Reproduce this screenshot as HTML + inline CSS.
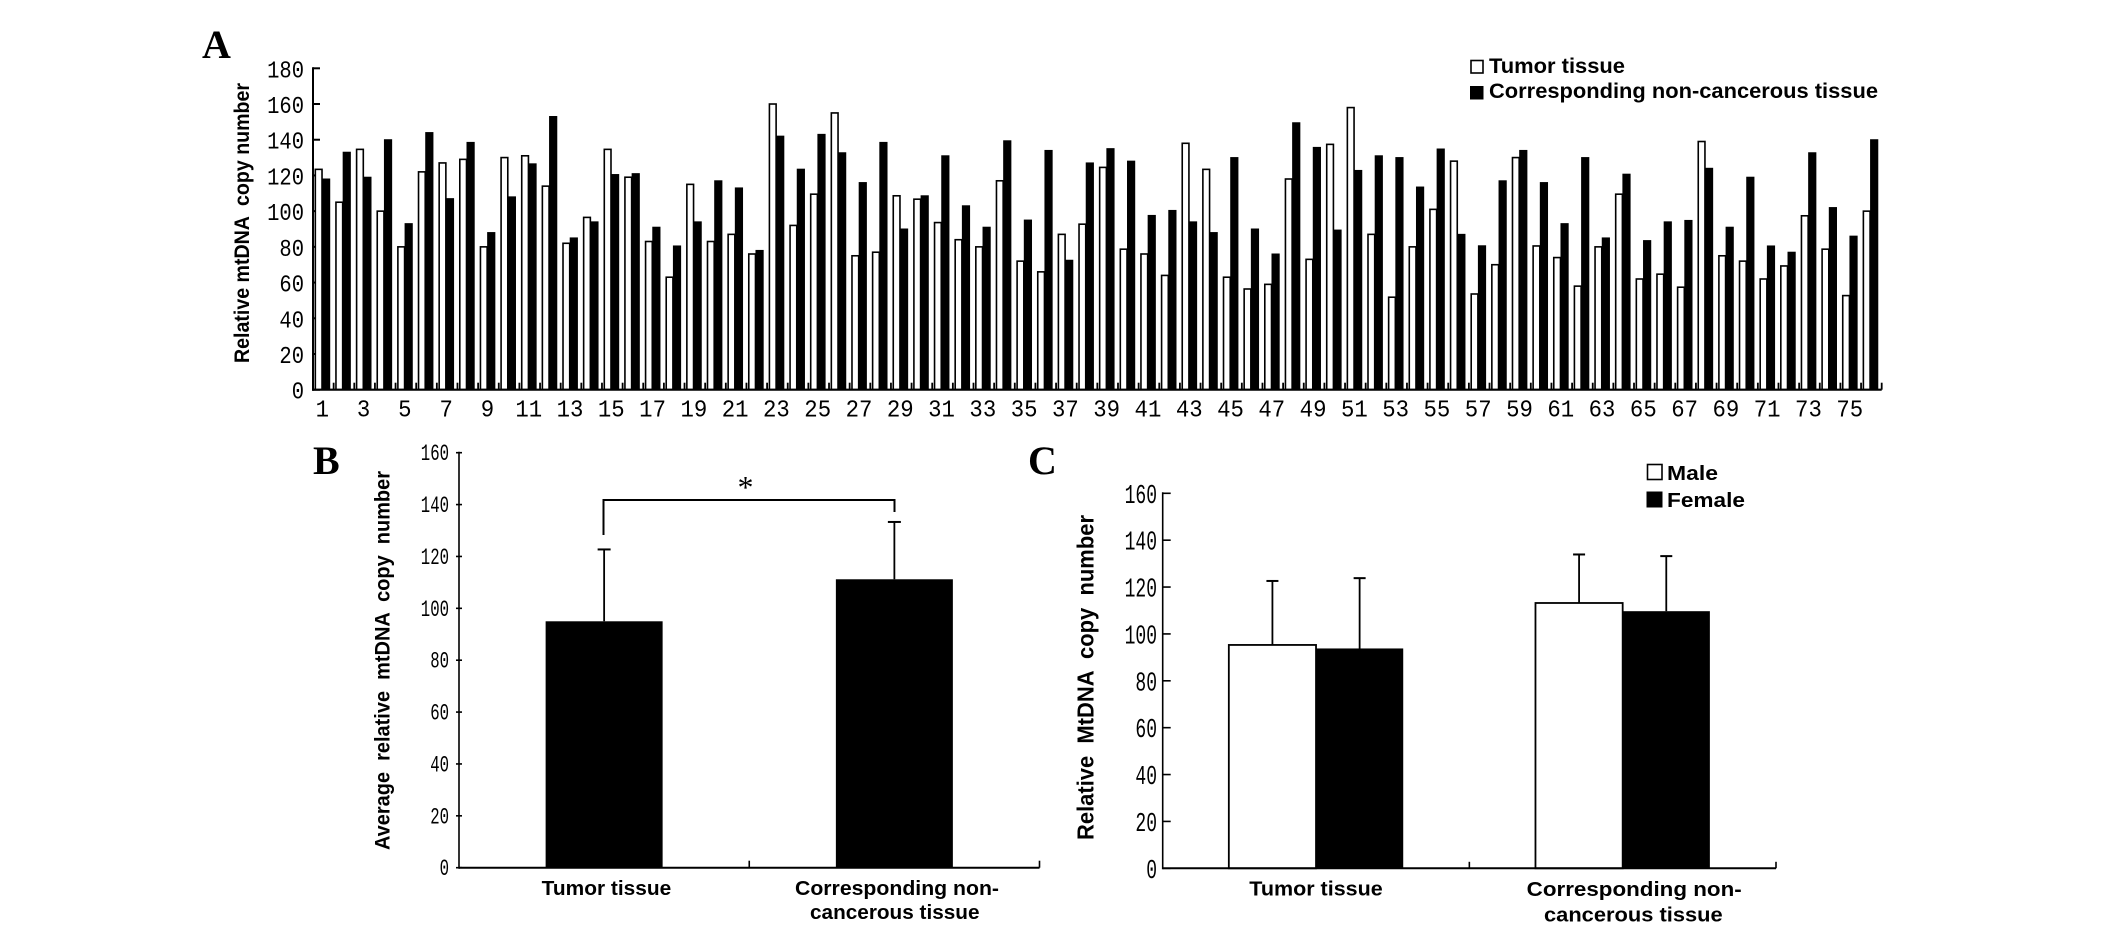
<!DOCTYPE html>
<html lang="en">
<head>
<meta charset="utf-8">
<title>Relative mtDNA copy number figure</title>
<style>
html,body{margin:0;padding:0;background:#fff;}
svg{display:block;}
text{fill:#000;}
.letter{font-family:"Liberation Serif",serif;font-weight:bold;font-size:40px;}
.title{font-family:"Liberation Sans",sans-serif;font-weight:bold;white-space:pre;}
.cat{font-family:"Liberation Sans",sans-serif;font-weight:bold;font-size:20px;}
.num{font-family:"Liberation Mono",monospace;}
</style>
</head>
<body>
<svg id="fig" xmlns="http://www.w3.org/2000/svg" width="2126" height="929" viewBox="0 0 2126 929">
  <rect x="0" y="0" width="2126" height="929" fill="#fff"/>
  <g id="panelA">
    <text class="letter" x="202" y="58">A</text>
    <text class="title" font-size="21" transform="translate(249,363) rotate(-90)" textLength="280" lengthAdjust="spacingAndGlyphs" xml:space="preserve">Relative mtDNA  copy number</text>
    <rect x="1471" y="60.5" width="12" height="12.5" fill="#fff" stroke="#000" stroke-width="1.6"/>
    <text class="title" font-size="21" x="1489" y="73" textLength="136" lengthAdjust="spacingAndGlyphs">Tumor tissue</text>
    <rect x="1470" y="86" width="13.5" height="13.5" fill="#000"/>
    <text class="title" font-size="21" x="1489" y="98" textLength="389" lengthAdjust="spacingAndGlyphs">Corresponding non-cancerous tissue</text>
  </g>
  <g id="panelB">
    <text class="letter" x="313" y="474">B</text>
    <text class="title" font-size="21" transform="translate(389.5,850) rotate(-90)" textLength="379" lengthAdjust="spacingAndGlyphs" xml:space="preserve">Average  relative  mtDNA  copy  number</text>
    <path d="M603.5 535V500H894.5V512" fill="none" stroke="#000" stroke-width="2"/>
    <text x="745.5" y="498" text-anchor="middle" font-family="Liberation Serif, serif" font-size="32">*</text>
    <text class="cat" x="541.7" y="895" textLength="129.5" lengthAdjust="spacingAndGlyphs">Tumor tissue</text>
    <text class="cat" x="795" y="895" textLength="204" lengthAdjust="spacingAndGlyphs">Corresponding non-</text>
    <text class="cat" x="810" y="919" textLength="169.5" lengthAdjust="spacingAndGlyphs">cancerous tissue</text>
  </g>
  <g id="panelC">
    <text class="letter" x="1028" y="474">C</text>
    <text class="title" font-size="23" transform="translate(1093.5,840) rotate(-90)" textLength="325" lengthAdjust="spacingAndGlyphs" xml:space="preserve">Relative  MtDNA  copy  number</text>
    <rect x="1647.5" y="464.5" width="14.5" height="15" fill="#fff" stroke="#000" stroke-width="1.6"/>
    <text class="cat" x="1667" y="480" textLength="51" lengthAdjust="spacingAndGlyphs">Male</text>
    <rect x="1646.5" y="491.5" width="16" height="16" fill="#000"/>
    <text class="cat" x="1667" y="507" textLength="78" lengthAdjust="spacingAndGlyphs">Female</text>
    <text class="cat" x="1249.3" y="895.7" textLength="133.4" lengthAdjust="spacingAndGlyphs">Tumor tissue</text>
    <text class="cat" x="1526.7" y="896" textLength="215" lengthAdjust="spacingAndGlyphs">Corresponding non-</text>
    <text class="cat" x="1544" y="921.7" textLength="178.7" lengthAdjust="spacingAndGlyphs">cancerous tissue</text>
  </g>
</svg>
<script>
// ---------- Panel A data ----------
const sampleLabelsA = [1,3,5,7,9,11,13,15,17,19,21,23,25,27,29,31,33,35,37,39,41,43,45,47,49,51,53,55,57,59,61,63,65,67,69,71,73,75];
const yTicksA = [0,20,40,60,80,100,120,140,160,180];
const tumorA = [123.4,105,134.6,100,80,122,127,129,80,130,131,114,82,96.5,134.6,119,83,63,115,83,87,76,160,92,109.5,155,75,77,108.6,106.7,93.6,84,80,117,72,66,87,92.7,124.5,78.7,76,64,138,123.4,63,56.4,59,118,73,137.4,158,87,51.8,80,101,128,53.6,70,130,80.5,74,58,80,109.5,62,64.7,57.4,139,75,72,62,69.3,97.4,78.7,52.7,100];
const nonCancerousA = [118,133,119,140,93,144,107,138.5,88,108,126.5,153,85,94,120.5,121,91,80.5,94,117,113,78,142,123.5,143,132.7,116,138.5,90,108.6,131,103,91,139.4,95,134,72.5,127,135,128,97.6,100.4,94,88,130,90,76,149.5,135.7,89.4,122.8,131,130,113.5,134.8,87,80.6,117,134,116,93,130,85,120.7,83.5,94,94.8,124,91,119,80.5,77,132.7,102,86,140];

// ---------- Panel B data ----------
const categoriesB = ["Tumor tissue","Corresponding non-cancerous tissue"];
const yTicksB = [0,20,40,60,80,100,120,140,160];
const meansB = [95,111.2];
const errorTopsB = [122.7,133.3];

// ---------- Panel C data ----------
const categoriesC = ["Tumor tissue","Corresponding non-cancerous tissue"];
const yTicksC = [0,20,40,60,80,100,120,140,160];
const maleC = [95.3,113.2];
const femaleC = [93.8,109.7];
const maleErrorTopsC = [122.6,133.9];
const femaleErrorTopsC = [123.8,133.2];

const NS = 'http://www.w3.org/2000/svg';
function mk(parent, tag, attrs) {
  const el = document.createElementNS(NS, tag);
  for (const k in attrs) el.setAttribute(k, attrs[k]);
  parent.appendChild(el);
  return el;
}
function line(parent, x1, y1, x2, y2, w) {
  return mk(parent, 'line', {x1: x1, y1: y1, x2: x2, y2: y2, stroke: '#000', 'stroke-width': w});
}
function numText(parent, str, x, y, size, digitW, anchor) {
  const t = mk(parent, 'text', {
    class: 'num', x: x, y: y, 'font-size': size, 'text-anchor': anchor,
    textLength: digitW * String(str).length, lengthAdjust: 'spacingAndGlyphs'
  });
  t.textContent = str;
  return t;
}

// ---------- Panel A ----------
(function () {
  const g = document.getElementById('panelA');
  const x0 = 313, x1 = 1881.7, y0 = 389.7, yTop = 68.3, yMax = 180;
  const n = tumorA.length;
  const cw = (x1 - x0) / n;
  const yS = v => y0 - (v / yMax) * (y0 - yTop);
  const xS = i => x0 + cw * (i + 0.5);

  yTicksA.forEach(v => {
    const tick = line(g, x0, yS(v), x0 + 7, yS(v), 2);
    
    
    const lab = numText(g, v, 304, yS(v) + 9, 24, 12.3, 'end');
    
    
  });
  for (let k = 1; k <= n; k++) {
    const tx = x0 + cw * k;
    const tick = line(g, tx, y0, tx, y0 - 7, 1.8);
    
    
  }
  tumorA.forEach((v, i) => {
    const b = mk(g, 'rect', {x: xS(i) - 8, y: yS(v), width: 6.7, height: y0 - yS(v), fill: '#fff', stroke: '#000', 'stroke-width': 1.6});
    
    
  });
  nonCancerousA.forEach((v, i) => {
    const b = mk(g, 'rect', {x: xS(i) - 1.3, y: yS(v) - 0.5, width: 8.2, height: y0 - yS(v) + 0.5, fill: '#000'});
    
    
  });
  sampleLabelsA.forEach(s => {
    const lab = numText(g, s, xS(s - 1) - 1, 416.5, 24, 13.4, 'middle');
    
    
  });
  const ax = line(g, x0, yTop - 1, x0, y0 + 1, 2);
  
  
  const bx = line(g, x0 - 1, y0, x1, y0, 2.2);
  
  
})();

// ---------- Panel B ----------
(function () {
  const g = document.getElementById('panelB');
  const x0 = 459, x1 = 1039.5, y0 = 867.7, yTop = 452.7, yMax = 160;
  const cw = (x1 - x0) / categoriesB.length;
  const barW = 117;
  const yS = v => y0 - (v / yMax) * (y0 - yTop);
  const xS = i => x0 + cw * (i + 0.5);

  yTicksB.forEach(v => {
    const tick = line(g, x0 - 3, yS(v), x0 + 3, yS(v), 1.6);
    
    
    const lab = numText(g, v, 449, yS(v) + 7.5, 23, 9.4, 'end');
    
    
  });
  categoriesB.forEach((c, i) => {
    const stem = line(g, xS(i), yS(errorTopsB[i]), xS(i), yS(meansB[i]), 1.8);
    
    
    const cap = line(g, xS(i) - 6.5, yS(errorTopsB[i]), xS(i) + 6.5, yS(errorTopsB[i]), 2);
    
    
    const b = mk(g, 'rect', {x: xS(i) - barW / 2, y: yS(meansB[i]), width: barW, height: y0 - yS(meansB[i]), fill: '#000'});
    
    
  });
  for (let k = 1; k <= categoriesB.length; k++) {
    const tx = x0 + cw * k;
    const tick = line(g, tx, y0, tx, y0 - 7, 1.6);
    
    
  }
  const ax = line(g, x0, yTop - 1, x0, y0 + 1, 1.6);
  
  
  const bx = line(g, x0, y0, x1, y0, 2);
  
  
})();

// ---------- Panel C ----------
(function () {
  const g = document.getElementById('panelC');
  const x0 = 1162.7, x1 = 1776, y0 = 868.3, yTop = 493.3, yMax = 160;
  const cw = (x1 - x0) / categoriesC.length;
  const barW = 87.2;
  const yS = v => y0 - (v / yMax) * (y0 - yTop);
  const xS = i => x0 + cw * (i + 0.5);

  yTicksC.forEach(v => {
    const tick = line(g, x0, yS(v), x0 + 8, yS(v), 1.6);
    
    
    const lab = numText(g, v, 1157, yS(v) + 9.5, 27, 10.8, 'end');
    
    
  });
  categoriesC.forEach((c, i) => {
    const cxM = xS(i) - barW / 2, cxF = xS(i) + barW / 2;
    const s1 = line(g, cxM, yS(maleErrorTopsC[i]), cxM, yS(maleC[i]), 1.8);
    
    
    const c1 = line(g, cxM - 6, yS(maleErrorTopsC[i]), cxM + 6, yS(maleErrorTopsC[i]), 2);
    
    
    const s2 = line(g, cxF, yS(femaleErrorTopsC[i]), cxF, yS(femaleC[i]), 1.8);
    
    
    const c2 = line(g, cxF - 6, yS(femaleErrorTopsC[i]), cxF + 6, yS(femaleErrorTopsC[i]), 2);
    
    
    const m = mk(g, 'rect', {x: xS(i) - barW, y: yS(maleC[i]), width: barW, height: y0 - yS(maleC[i]), fill: '#fff', stroke: '#000', 'stroke-width': 1.8});
    
    
    const f = mk(g, 'rect', {x: xS(i), y: yS(femaleC[i]), width: barW, height: y0 - yS(femaleC[i]), fill: '#000'});
    
    
  });
  for (let k = 1; k <= categoriesC.length; k++) {
    const tx = x0 + cw * k;
    const tick = line(g, tx, y0, tx, y0 - 6.5, 1.6);
    
    
  }
  const ax = line(g, x0, yTop - 1, x0, y0 + 1, 1.6);
  
  
  const bx = line(g, x0, y0, x1, y0, 2);
  
  
})();
</script>
</body>
</html>
